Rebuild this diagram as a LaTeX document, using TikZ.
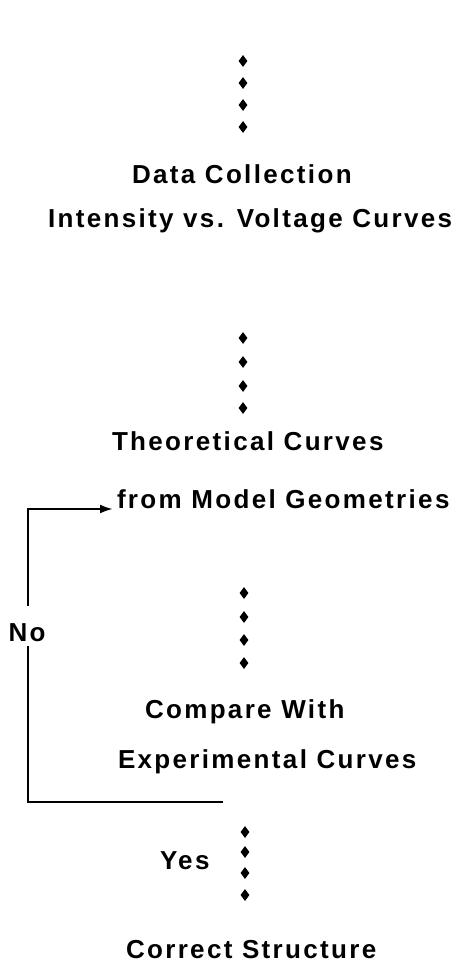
\documentclass[tikz,border=0pt]{standalone}
\usepackage{fontspec}
\newfontfamily\lblfont{Liberation Sans Bold}[LetterSpace=9]
\usetikzlibrary{arrows.meta,shapes.geometric}
\tikzset{
  lbl/.style={anchor=base west,inner sep=0pt,outer sep=0pt,font=\lblfont\fontsize{26}{26}\selectfont},
  dotmark/.style={diamond,fill=black,draw=none,inner sep=0pt,minimum width=9pt,minimum height=12pt},
  loopline/.style={line width=2.4pt},
}
\begin{document}
\begin{tikzpicture}[x=1pt,y=-1pt]
\useasboundingbox (0,0) rectangle (468,963);
% marker columns
\foreach \yy [count=\i] in {61,83,105,127} \node[dotmark] (a\i) at (243,\yy) {};
\foreach \yy [count=\i] in {338,362,386,408} \node[dotmark] (b\i) at (243,\yy) {};
\foreach \yy [count=\i] in {593,617,640,663} \node[dotmark] (c\i) at (244,\yy) {};
\foreach \yy [count=\i] in {832,852,873,895} \node[dotmark] (d\i) at (245,\yy) {};
% texts
\node[lbl] (data) at (132,183) {Data Collection};
\node[lbl] (ivv) at (48,227) {Intensity vs. Voltage Curves};
\node[lbl] (theo) at (112,450) {Theoretical Curves};
\node[lbl] (model) at (117,508) {from Model Geometries};
\node[lbl] (comp) at (145,718) {Compare With};
\node[lbl] (expt) at (118,768) {Experimental Curves};
\node[lbl] (corr) at (126,958) {Correct Structure};
\node[lbl] (yes) at (160,869) {Yes};
\node[lbl,anchor=base] (no) at (27,641) {No};
% loop
\coordinate (ls) at (223,802);
\coordinate (lc) at (28,802);
\coordinate (ut) at (28,509);
\coordinate (at) at (113,509);
\coordinate (nb) at (28,646);
\coordinate (nt) at (28,606);
\draw[loopline] (ls) -- (lc) -- (nb);
\draw[loopline,-{Latex[length=13pt,width=9pt]}] (nt) -- (ut) -- (at);
\end{tikzpicture}
\end{document}
